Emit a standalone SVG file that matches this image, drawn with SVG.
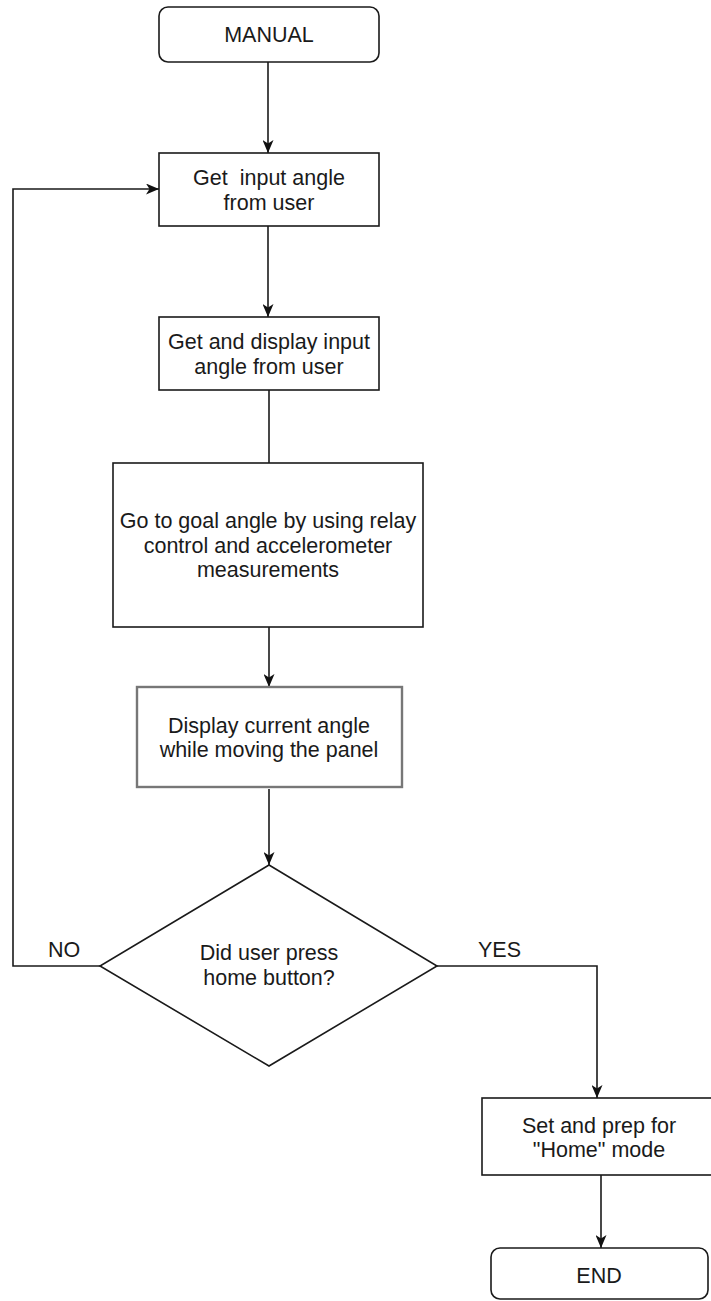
<svg xmlns="http://www.w3.org/2000/svg" width="711" height="1301" viewBox="0 0 711 1301">
<defs>
<style>
.box{fill:#fff;stroke:#1a1a1a;stroke-width:1.6}
.gray{fill:#fff;stroke:#777;stroke-width:2.4}
.t{font-family:"Liberation Sans",Arial,sans-serif;font-size:21.5px;fill:#1a1a1a;text-anchor:middle}
.lbl{font-family:"Liberation Sans",Arial,sans-serif;font-size:21.5px;fill:#1a1a1a}
.c{fill:none;stroke:#1a1a1a;stroke-width:1.6}
</style>
<marker id="arr" viewBox="0 0 13 11" markerWidth="13" markerHeight="11" refX="13" refY="5.5" orient="auto" markerUnits="userSpaceOnUse">
<path d="M0,0 L13,5.5 L0,11 L3.5,5.5 Z" fill="#111"/>
</marker>
</defs>
<rect width="711" height="1301" fill="#fff"/>
<g id="connectors">
<path class="c" d="M268,62 V153" marker-end="url(#arr)"/>
<path class="c" d="M268,226 V317" marker-end="url(#arr)"/>
<path class="c" d="M269,390 V463"/>
<path class="c" d="M269,627 V687" marker-end="url(#arr)"/>
<path class="c" d="M269,789 V865" marker-end="url(#arr)"/>
<path class="c" d="M100,966 H13 V189 H159" marker-end="url(#arr)"/>
<path class="c" d="M437,966 H597 V1098" marker-end="url(#arr)"/>
<path class="c" d="M601,1175 V1248" marker-end="url(#arr)"/>
<text class="lbl" x="48" y="957">NO</text>
<text class="lbl" x="478" y="957">YES</text>
</g>
<g id="manual">
<rect class="box" x="159" y="7" width="220" height="55" rx="9"/>
<text class="t" x="269" y="42">MANUAL</text>
</g>
<g id="get-input">
<rect class="box" x="159" y="153" width="220" height="73"/>
<text class="t" x="269" y="185" xml:space="preserve">Get  input angle</text>
<text class="t" x="269" y="210">from user</text>
</g>
<g id="display-input">
<rect class="box" x="159" y="317" width="220" height="73"/>
<text class="t" x="269" y="349">Get and display input</text>
<text class="t" x="269" y="374">angle from user</text>
</g>
<g id="goto-goal">
<rect class="box" x="113" y="463" width="310" height="164"/>
<text class="t" x="268" y="528">Go to goal angle by using relay</text>
<text class="t" x="268" y="553">control and accelerometer</text>
<text class="t" x="268" y="577">measurements</text>
</g>
<g id="display-current">
<rect class="gray" x="137" y="687" width="265" height="100"/>
<text class="t" x="269" y="733">Display current angle</text>
<text class="t" x="269" y="757">while moving the panel</text>
</g>
<g id="decision">
<polygon class="box" points="269,865 437,966 269,1066 100,966"/>
<text class="t" x="269" y="960">Did user press</text>
<text class="t" x="269" y="985">home button?</text>
</g>
<g id="home-prep">
<rect class="box" x="482" y="1098" width="231" height="77"/>
<text class="t" x="599" y="1133">Set and prep for</text>
<text class="t" x="599" y="1157">"Home" mode</text>
</g>
<g id="end">
<rect class="box" x="491" y="1248" width="217" height="51" rx="9"/>
<text class="t" x="599" y="1283">END</text>
</g>
</svg>
